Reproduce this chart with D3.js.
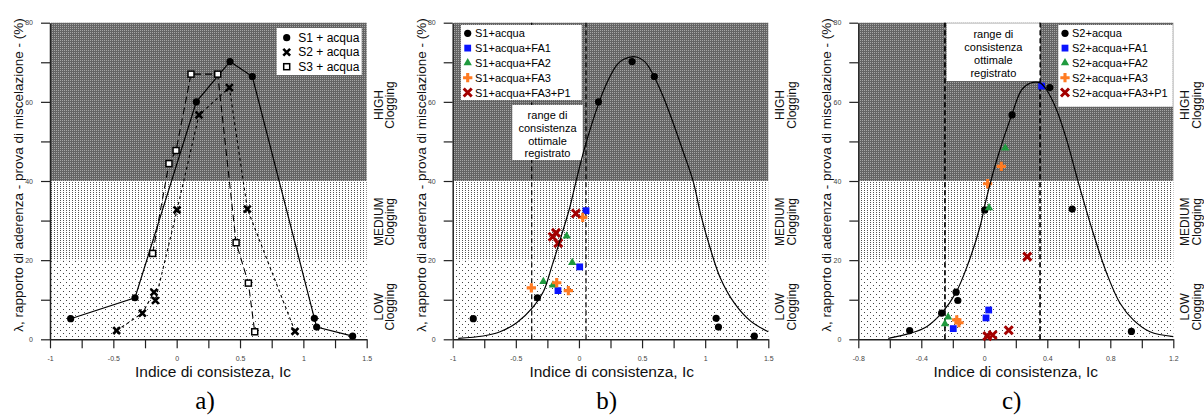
<!DOCTYPE html>
<html><head><meta charset="utf-8">
<script src="https://cdn.jsdelivr.net/npm/d3@7"></script>
<style>
body{margin:0;background:#fff;}
svg{display:block;font-family:"Liberation Sans",Arial,sans-serif;}
</style></head><body>
<svg id="chart" width="1204" height="417"></svg>
<script>
// ---------------- DATA ----------------
const s1Ic  = [-0.837,-0.329,0.155,0.421,0.597,1.087,1.105,1.389];
const s1Lam = [5.2,10.5,60.0,70.2,66.4,5.3,3.1,0.8];
const s2Ic  = [-0.474,-0.271,-0.179,-0.168,0.003,0.176,0.416,0.558,0.934];
const s2Lam = [2.2,6.6,11.9,9.8,32.7,56.7,63.6,32.9,2.0];
const s3Ic  = [-0.19,-0.061,-0.005,0.113,0.324,0.469,0.566,0.616];
const s3Lam = [21.7,44.4,47.7,67.0,67.0,24.4,14.2,1.9];

const fa1bIc = [0.056,0.006,-0.166];          const fa1bLam = [32.5,18.3,12.3];
const fa2bIc = [-0.097,-0.053,-0.282,-0.206]; const fa2bLam = [26.1,19.4,14.6,13.7];
const fa3bIc = [0.030,-0.377,-0.176,-0.084];  const fa3bLam = [30.8,13.0,14.3,12.3];
const p1bIc  = [-0.024,-0.182,-0.208,-0.164]; const p1bLam  = [31.8,26.9,25.9,24.3];

const fa1cIc = [0.364,0.028,0.011,-0.197];    const fa1cLam = [64.0,7.4,5.4,2.7];
const fa2cIc = [0.133,0.030,-0.230,-0.250];   const fa2cLam = [48.3,33.2,5.6,3.9];
const fa3cIc = [0.108,0.021,-0.175,-0.161];   const fa3cLam = [43.7,39.3,4.9,4.2];
const p1cIc  = [0.273,0.155,0.019,0.053];     const p1cLam  = [20.9,2.3,0.8,1.1];

const curveBIc  = [-0.956,-0.758,-0.625,-0.493,-0.362,-0.282,-0.216,-0.137,-0.071,-0.024,0.048,0.161,0.232,0.299,0.351,0.444,0.523,0.589,0.668,0.747,0.826,0.906,0.965,1.040,1.120,1.230,1.360,1.5];
const curveBLam = [0.25,0.83,1.9,4.2,8.2,12.0,18.3,26.4,33.5,39.8,48.7,60.0,65.5,69.3,70.7,71.4,70.1,66.8,61.3,54.6,47.4,39.8,31.5,23.0,15.5,9.2,4.6,1.9];
const curveCIc  = [-0.610,-0.472,-0.366,-0.271,-0.180,-0.102,-0.027,0.011,0.079,0.174,0.237,0.290,0.354,0.396,0.460,0.523,0.587,0.629,0.692,0.777,0.862,0.946,1.052,1.2];
const curveCLam = [0.25,1.5,3.2,6.6,11.8,19.2,28.5,35.2,45.3,56.7,63.0,64.7,64.8,63.0,57.9,50.4,41.1,35.2,26.8,16.7,9.1,4.9,1.9,0.7];

const rangeB = [-0.374, 0.056];
const rangeC = [-0.250, 0.354];

const xTicksAB  = [-1,-0.75,-0.5,-0.25,0,0.25,0.5,0.75,1,1.25,1.5];
const xLabelsAB = [-1,-0.5,0,0.5,1,1.5];
const xTicksC   = [-0.8,-0.6,-0.4,-0.2,0,0.2,0.4,0.6,0.8,1.0,1.2];
const xLabelsC  = [-0.8,-0.4,0,0.4,0.8,1.2];
const yTicks    = [0,10,20,30,40,50,60,70,80];
const yLabels   = [0,20,40,60,80];

const zoneNames  = ["LOW","MEDIUM","HIGH"];
const zoneBounds = [0,20,40,80];

const legendA = ["S1 + acqua","S2 + acqua","S3 + acqua"];
const legendB = ["S1+acqua","S1+acqua+FA1","S1+acqua+FA2","S1+acqua+FA3","S1+acqua+FA3+P1"];
const legendC = ["S2+acqua","S2+acqua+FA1","S2+acqua+FA2","S2+acqua+FA3","S2+acqua+FA3+P1"];
const boxText = ["range di","consistenza","ottimale","registrato"];

// ---------------- STYLE ----------------
const COL = {blue:"#0a14ff", green:"#1f9a3e", orange:"#ff7b22", red:"#a30000", black:"#000"};
const yTop = 22.7, yBot = 339.3;

const svg = d3.select("#chart");
const defs = svg.append("defs");
function pat(id,w,h,bg,dots,col){
  const p = defs.append("pattern").attr("id",id).attr("patternUnits","userSpaceOnUse")
    .attr("width",w).attr("height",h);
  p.append("rect").attr("width",w).attr("height",h).attr("fill",bg);
  dots.forEach(([x,y])=>p.append("rect").attr("x",x).attr("y",y).attr("width",1).attr("height",1).attr("fill",col));
}
pat("pHigh",2,2,"#646464",[[0,0]],"#a6a6a6");
pat("pMed",3,2,"#ffffff",[[0,0]],"#555555");
pat("pLow",6,6,"#ffffff",[[0,0],[3,3]],"#444");
const zoneFill = ["url(#pLow)","url(#pMed)","url(#pHigh)"];

const zip = (a,b)=>a.map((v,i)=>[v,b[i]]);
const fmt = v => String(+v.toFixed(2));

function marker(g,type,cx,cy){
  switch(type){
    case "circle": g.append("circle").attr("cx",cx).attr("cy",cy).attr("r",3.6).attr("fill",COL.black); break;
    case "osquare": g.append("rect").attr("x",cx-3).attr("y",cy-3).attr("width",6).attr("height",6)
        .attr("fill","#fff").attr("stroke","#000").attr("stroke-width",1.5); break;
    case "btimes": g.append("path").attr("d",`M${cx-3.4},${cy-3.4}L${cx+3.4},${cy+3.4}M${cx-3.4},${cy+3.4}L${cx+3.4},${cy-3.4}`)
        .attr("stroke","#000").attr("stroke-width",2.6).attr("fill","none"); break;
    case "square": g.append("rect").attr("x",cx-3.4).attr("y",cy-3.4).attr("width",6.8).attr("height",6.8).attr("fill",COL.blue); break;
    case "triangle": g.append("path").attr("d",d3.symbol(d3.symbolTriangle,30)()).attr("transform",`translate(${cx},${cy})`).attr("fill",COL.green); break;
    case "plus": g.append("path").attr("d",d3.symbol(d3.symbolCross,48)()).attr("transform",`translate(${cx},${cy})`).attr("fill",COL.orange); break;
    case "rtimes": g.append("path").attr("d",`M${cx-4},${cy-4}L${cx+4},${cy+4}M${cx-4},${cy+4}L${cx+4},${cy-4}`)
        .attr("stroke",COL.red).attr("stroke-width",3).attr("fill","none"); break;
  }
}

function panel(cfg){
  const g = svg.append("g");
  const x = d3.scaleLinear().domain(cfg.dom).range([cfg.left,cfg.right]);
  const y = d3.scaleLinear().domain([0,80]).range([yBot,yTop]);
  zoneNames.forEach((z,i)=>{
    g.append("rect").attr("x",cfg.left+1).attr("y",y(zoneBounds[i+1]))
      .attr("width",cfg.right-cfg.left-1).attr("height",y(zoneBounds[i])-y(zoneBounds[i+1]))
      .attr("fill",zoneFill[i]);
  });
  const isLab = (arr,v)=>arr.some(a=>Math.abs(a-v)<1e-9);
  const ax = g.append("g").attr("transform",`translate(0,${yBot})`)
    .call(d3.axisBottom(x).tickValues(cfg.ticks).tickFormat(v=>isLab(cfg.labels,v)?fmt(v):"")
      .tickSize(9).tickSizeOuter(0).tickPadding(8));
  const ay = g.append("g").attr("transform",`translate(${cfg.left},0)`)
    .call(d3.axisLeft(y).tickValues(yTicks).tickFormat(v=>isLab(yLabels,v)?fmt(v):"")
      .tickSize(9).tickSizeOuter(0).tickPadding(8));
  [ax,ay].forEach(a=>{
    a.select(".domain").attr("stroke","#222").attr("stroke-width",1.5);
    a.selectAll(".tick line").attr("stroke","#222").attr("stroke-width",1.2);
    a.selectAll(".tick text").attr("font-size",7).attr("fill","#444").attr("font-family","Liberation Sans, Arial, sans-serif");
  });
  g.append("text").attr("x",cfg.titleX).attr("y",377).attr("text-anchor","middle")
    .attr("font-size",15.5).attr("fill","#111").text(cfg.title);
  g.append("text").attr("transform",`translate(${cfg.left-27},175) rotate(-90)`).attr("text-anchor","middle")
    .attr("font-size",13.5).attr("fill","#111").text("λ, rapporto di aderenza - prova di miscelazione - (%)");
  g.append("text").attr("x",cfg.tagX).attr("y",409).attr("text-anchor","middle")
    .attr("font-family","Liberation Serif, Times New Roman, serif").attr("font-size",25).attr("fill","#000").text(cfg.tag);
  const zoneLabY = [8.2,29.7,59.2];
  zoneNames.forEach((z,i)=>{
    const t = g.append("g").attr("transform",`translate(${cfg.right+16},${y(zoneLabY[i])}) rotate(-90)`);
    t.append("text").attr("text-anchor","middle").attr("font-size",12).attr("fill","#111").text(z);
    t.append("text").attr("y",11.5).attr("text-anchor","middle").attr("font-size",12).attr("fill","#111").text("Clogging");
  });
  return {g,x,y};
}

const line = (x,y)=>d3.line().x(d=>x(d[0])).y(d=>y(d[1]));

// ---------------- PANEL A ----------------
{
  const {g,x,y} = panel({left:50,right:366.7,dom:[-1,1.5],ticks:xTicksAB,labels:xLabelsAB,
    title:"Indice di consisteza, Ic",titleX:213,tag:"a)",tagX:205});
  g.append("path").attr("d",line(x,y)(zip(s1Ic,s1Lam))).attr("fill","none").attr("stroke","#000").attr("stroke-width",1.2);
  g.append("path").attr("d",line(x,y)(zip(s2Ic,s2Lam))).attr("fill","none").attr("stroke","#000").attr("stroke-width",1.1).attr("stroke-dasharray","3,3");
  g.append("path").attr("d",line(x,y)(zip(s3Ic,s3Lam))).attr("fill","none").attr("stroke","#000").attr("stroke-width",1.1).attr("stroke-dasharray","7,4");
  zip(s1Ic,s1Lam).forEach(d=>marker(g,"circle",x(d[0]),y(d[1])));
  zip(s2Ic,s2Lam).forEach(d=>marker(g,"btimes",x(d[0]),y(d[1])));
  zip(s3Ic,s3Lam).forEach(d=>marker(g,"osquare",x(d[0]),y(d[1])));
  g.append("rect").attr("x",276.7).attr("y",28).attr("width",85).attr("height",47).attr("fill","#fff");
  const types = ["circle","btimes","osquare"];
  legendA.forEach((t,i)=>{
    const cy = 37.7 + i*14.5;
    marker(g,types[i],286.7,cy);
    g.append("text").attr("x",298.3).attr("y",cy+4.2).attr("font-size",12).attr("fill","#000").text(t);
  });
}

function fullPanel(cfg, base, sets, curveIc, curveLam, range, legendTxt, boxCfg, legCfg){
  const {g,x,y} = panel(cfg);
  const dashLines = ()=>range.forEach(v=>{
    g.append("line").attr("x1",x(v)).attr("x2",x(v)).attr("y1",yBot).attr("y2",yTop)
      .attr("stroke","#000").attr("stroke-width",1.2).attr("stroke-dasharray","5,3");
  });
  dashLines();
  g.append("rect").attr("x",boxCfg.x).attr("y",boxCfg.y).attr("width",boxCfg.w).attr("height",boxCfg.h).attr("fill","#fff");
  boxText.forEach((t,i)=>{
    g.append("text").attr("x",boxCfg.x+boxCfg.w/2).attr("y",boxCfg.ty+i*12.8).attr("text-anchor","middle")
      .attr("font-size",11).attr("fill","#000").text(t);
  });
  if (boxCfg.redraw) dashLines();
  g.append("rect").attr("x",legCfg.x).attr("y",legCfg.y).attr("width",legCfg.w).attr("height",legCfg.h).attr("fill","#fff");
  const types = ["circle","square","triangle","plus","rtimes"];
  legendTxt.forEach((t,i)=>{
    const cy = legCfg.y + 8.3 + i*14.8;
    marker(g,types[i],legCfg.mx,cy);
    g.append("text").attr("x",legCfg.tx).attr("y",cy+4).attr("font-size",11).attr("fill","#000").text(t);
  });
  zip(base[0],base[1]).forEach(d=>marker(g,"circle",x(d[0]),y(d[1])));
  sets.forEach((s,k)=>zip(s[0],s[1]).forEach(d=>marker(g,types[k+1],x(d[0]),y(d[1]))));
  g.append("path").attr("d",line(x,y).curve(d3.curveCatmullRom)(zip(curveIc,curveLam)))
    .attr("fill","none").attr("stroke","#000").attr("stroke-width",1.2);
}

// ---------------- PANEL B ----------------
fullPanel({left:452.7,right:768.3,dom:[-1,1.5],ticks:xTicksAB,labels:xLabelsAB,
    title:"Indice di consistenza, Ic",titleX:611.7,tag:"b)",tagX:606.7},
  [s1Ic,s1Lam],
  [[fa1bIc,fa1bLam],[fa2bIc,fa2bLam],[fa3bIc,fa3bLam],[p1bIc,p1bLam]],
  curveBIc, curveBLam, rangeB, legendB,
  {x:512.3,y:105,w:70.4,h:55,ty:119,redraw:false},
  {x:461,y:25,w:120.7,h:75,mx:467.7,tx:475});

// ---------------- PANEL C ----------------
fullPanel({left:858.3,right:1173.3,dom:[-0.8,1.2],ticks:xTicksC,labels:xLabelsC,
    title:"Indice di consistenza, Ic",titleX:1015.8,tag:"c)",tagX:1011.7},
  [s2Ic,s2Lam],
  [[fa1cIc,fa1cLam],[fa2cIc,fa2cLam],[fa3cIc,fa3cLam],[p1cIc,p1cLam]],
  curveCIc, curveCLam, rangeC, legendC,
  {x:946.7,y:23.3,w:93.3,h:57.7,ty:38.3,redraw:true},
  {x:1058.3,y:25,w:114.4,h:81.7,mx:1065,tx:1072});
</script>
</body></html>
